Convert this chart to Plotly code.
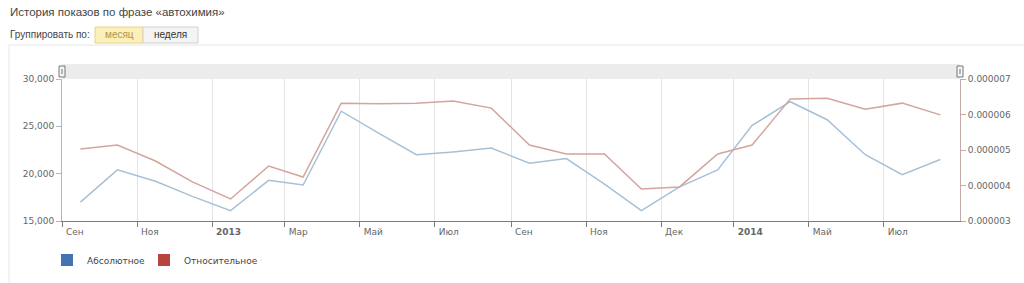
import plotly.graph_objects as go

# ---- data ----
months = ["2012-09-16", "2012-10-16", "2012-11-16", "2012-12-16",
          "2013-01-16", "2013-02-16", "2013-03-16", "2013-04-16",
          "2013-05-16", "2013-06-16", "2013-07-16", "2013-08-16",
          "2013-09-16", "2013-10-16", "2013-11-16", "2013-12-16",
          "2014-01-16", "2014-02-16", "2014-03-16", "2014-04-16",
          "2014-05-16", "2014-06-16", "2014-07-16", "2014-08-16"]
absolute = [17000, 20400, 19200, 17600, 16100, 19300, 18800, 26600,
            24300, 22000, 22300, 22700, 21100, 21600, 18900, 16100,
            18600, 20400, 25100, 27600, 25700, 22000, 19900, 21500]
relative = [5.03e-6, 5.14e-6, 4.69e-6, 4.10e-6, 3.62e-6, 4.55e-6, 4.24e-6, 6.32e-6,
            6.30e-6, 6.32e-6, 6.38e-6, 6.18e-6, 5.14e-6, 4.89e-6, 4.89e-6, 3.90e-6,
            3.96e-6, 4.89e-6, 5.14e-6, 6.44e-6, 6.46e-6, 6.15e-6, 6.32e-6, 5.99e-6]

x_tickvals = ["2012-09-01", "2012-11-01", "2013-01-01", "2013-03-01", "2013-05-01",
              "2013-07-01", "2013-09-01", "2013-11-01", "2014-01-01", "2014-03-01",
              "2014-05-01", "2014-07-01"]
x_ticktext = ["Сен", "Ноя", "<b>2013</b>", "Мар", "Май", "Июл", "Сен", "Ноя",
              "Дек", "<b>2014</b>", "Май", "Июл"]
left_ticks = [15000, 20000, 25000, 30000]
right_ticks = [3e-6, 4e-6, 5e-6, 6e-6, 7e-6]

title_text = "История показов по фразе «автохимия»"
group_label = "Группировать по:"
btn_month = "месяц"
btn_week = "неделя"
series_names = ["Абсолютное", "Относительное"]

# ---- layout helpers (pixel -> paper) ----
L, R, T, B = 62, 960, 79, 221
W, H = 1024, 283
def px(x):
    return (x - L) / (R - L)
def py(y):
    return (B - y) / (B - T)

AX_FONT = dict(family="DejaVu Sans", size=9, color="#666666")

fig = go.Figure()
fig.add_trace(go.Scatter(x=months, y=absolute, mode="lines", yaxis="y",
                         line=dict(color="#a7c0d6", width=1.5),
                         showlegend=False, hoverinfo="skip"))
fig.add_trace(go.Scatter(x=months, y=relative, mode="lines", yaxis="y2",
                         line=dict(color="#d2a59d", width=1.5),
                         showlegend=False, hoverinfo="skip"))
# legend entries (square swatches)
fig.add_trace(go.Scatter(x=[None], y=[None], mode="markers", name=series_names[0],
                         marker=dict(symbol="square", size=12, color="#4273b3"),
                         hoverinfo="skip"))
fig.add_trace(go.Scatter(x=[None], y=[None], mode="markers", name=series_names[1],
                         marker=dict(symbol="square", size=12, color="#b8443e"),
                         hoverinfo="skip"))
# invisible spacer entry so the last legend label is not clipped
fig.add_trace(go.Scatter(x=[None], y=[None], mode="markers", name=" ",
                         marker=dict(symbol="square", size=1, opacity=0),
                         hoverinfo="skip"))

shapes = [
    # outer box borders
    dict(type="line", xref="paper", yref="paper", x0=px(9), x1=px(1024), y0=py(45), y1=py(45),
         line=dict(color="#e6e6e6", width=1)),
    dict(type="line", xref="paper", yref="paper", x0=px(9), x1=px(9), y0=py(45), y1=py(283),
         line=dict(color="#e6e6e6", width=1)),
    # navigator band
    dict(type="rect", xref="paper", yref="paper", x0=0, x1=1, y0=py(79), y1=py(64),
         fillcolor="#ececec", line=dict(width=0), layer="below"),
    # handles
    dict(type="rect", xref="paper", yref="paper", x0=px(59), x1=px(65), y0=py(77), y1=py(66),
         fillcolor="#f4f4f4", line=dict(color="#777777", width=1)),
    dict(type="line", xref="paper", yref="paper", x0=px(62), x1=px(62), y0=py(74), y1=py(69),
         line=dict(color="#777777", width=1)),
    dict(type="rect", xref="paper", yref="paper", x0=px(957), x1=px(963), y0=py(77), y1=py(66),
         fillcolor="#f4f4f4", line=dict(color="#777777", width=1)),
    dict(type="line", xref="paper", yref="paper", x0=px(960), x1=px(960), y0=py(74), y1=py(69),
         line=dict(color="#777777", width=1)),
    # buttons
    dict(type="rect", xref="paper", yref="paper", x0=px(95), x1=px(143), y0=py(43), y1=py(27),
         fillcolor="#fcefb8", line=dict(color="#e6d28e", width=1)),
    dict(type="rect", xref="paper", yref="paper", x0=px(143), x1=px(198), y0=py(43), y1=py(27),
         fillcolor="#f4f4f4", line=dict(color="#d0d0d0", width=1)),
]

annotations = [
    dict(text=title_text, xref="paper", yref="paper", x=px(8), y=py(12),
         xanchor="left", yanchor="middle", showarrow=False,
         font=dict(family="Liberation Sans", size=11.5, color="#444444")),
    dict(text=group_label, xref="paper", yref="paper", x=px(8), y=py(35),
         xanchor="left", yanchor="middle", showarrow=False,
         font=dict(family="Liberation Sans", size=10, color="#444444")),
    dict(text=btn_month, xref="paper", yref="paper", x=px(119), y=py(35),
         xanchor="center", yanchor="middle", showarrow=False,
         font=dict(family="Liberation Sans", size=10, color="#b0954a")),
    dict(text=btn_week, xref="paper", yref="paper", x=px(170), y=py(35),
         xanchor="center", yanchor="middle", showarrow=False,
         font=dict(family="Liberation Sans", size=10, color="#333333")),
]

fig.update_layout(
    width=W, height=H,
    margin=dict(l=L, r=W - R, t=T, b=H - B, pad=0, autoexpand=False),
    paper_bgcolor="white", plot_bgcolor="white",
    showlegend=True,
    legend=dict(orientation="h", xref="container", yref="container",
                x=(L - 15) / W, y=1 - 260 / H, xanchor="left", yanchor="middle",
                entrywidth=52, entrywidthmode="pixels",
                font=dict(family="DejaVu Sans", size=9, color="#444444"),
                bgcolor="rgba(0,0,0,0)", itemclick=False, itemdoubleclick=False),
    xaxis=dict(type="date", range=["2012-09-01", "2014-09-01"],
               tickvals=x_tickvals, ticktext=x_ticktext,
               ticklabelposition="outside right", ticklabelshift=3, ticklabelstandoff=2,
               showgrid=True, gridcolor="#e4e4e4", gridwidth=1,
               showline=True, linecolor="#7a7a7a", linewidth=1,
               ticks="outside", ticklen=5, tickcolor="#7a7a7a",
               tickfont=AX_FONT, zeroline=False, fixedrange=True),
    yaxis=dict(range=[15000, 30000], tickvals=left_ticks, tickformat=",",
               showgrid=False, zeroline=False,
               showline=True, linecolor="#a9b8c6", linewidth=1,
               ticks="outside", ticklen=5, tickcolor="#a9b8c6",
               tickfont=AX_FONT, fixedrange=True),
    yaxis2=dict(range=[3e-6, 7e-6], tickvals=right_ticks, tickformat=".6f",
                overlaying="y", side="right", anchor="x",
                showgrid=False, zeroline=False,
                showline=True, linecolor="#c4a9a6", linewidth=1,
                ticks="outside", ticklen=5, tickcolor="#c4a9a6",
                tickfont=AX_FONT, fixedrange=True),
    shapes=shapes, annotations=annotations,
    hovermode=False,
)

fig.write_html("out.html", config={"displayModeBar": False})
